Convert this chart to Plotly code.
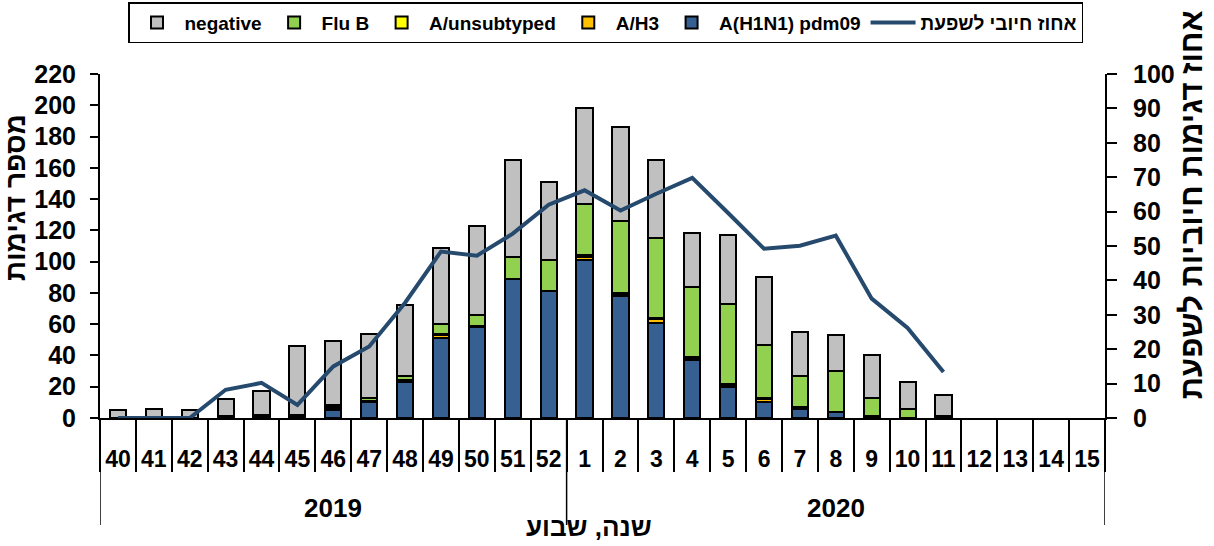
import plotly.graph_objects as go

weeks = ["40","41","42","43","44","45","46","47","48","49","50","51","52",
         "1","2","3","4","5","6","7","8","9","10","11","12","13","14","15"]
years = ["2019"]*13 + ["2020"]*15

h1n1 = [0,0,0,1,1,1,5,10,23,51,58,89,81,101,78,61,37,20,10,6,4,1,0,0,None,None,None,None]
h3 = [0,0,0,0,0,1,1,1,1,2,1,0,0,2,1,2,1,1,2,0,0,0,0,0,None,None,None,None]
unsub = [0,0,0,0,0,0,1,0,0,1,0,0,0,1,1,1,1,1,1,1,0,0,0,0,None,None,None,None]
flub = [0,0,0,0,1,0,1,2,3,6,7,14,20,33,46,51,45,51,34,20,26,12,6,1,None,None,None,None]
negative = [5,6,5,11,15,44,41,41,45,49,57,62,50,61,60,50,34,44,43,28,23,27,17,14,None,None,None,None]
pct_pos = [0,0,0,8.2,10.2,3.8,15.0,20.8,33.5,48.4,47.2,53.6,62.0,66.2,60.3,65.2,69.8,
           59.6,49.2,50.1,53.0,34.7,26.2,13.4,None,None,None,None]

FONT = "Liberation Sans, Arial, sans-serif"
n = len(weeks)

fig = go.Figure()
bar_series = [
    ("A(H1N1) pdm09", h1n1, "#376092", 5),
    ("A/H3", h3, "#FFC000", 4),
    ("A/unsubtyped", unsub, "#FFFF00", 3),
    ("Flu B", flub, "#92D050", 2),
    ("negative", negative, "#C0C0C0", 1),
]
for name, vals, col, rank in bar_series:
    fig.add_trace(go.Bar(x=weeks, y=vals, name=name, legendrank=rank,
                         marker=dict(color=col, line=dict(color="black", width=2))))
fig.add_trace(go.Scatter(x=weeks, y=pct_pos, name="אחוז חיובי לשפעת", yaxis="y2",
                         mode="lines", line=dict(color="#264A6E", width=4), legendrank=6))

fig.update_layout(
    width=1214, height=546,
    barmode="stack", bargap=0.55,
    plot_bgcolor="white", paper_bgcolor="white",
    margin=dict(l=100, r=109, t=74, b=128, autoexpand=False),
    font=dict(family=FONT, color="black", weight="bold"),
    legend=dict(orientation="h", traceorder="normal", itemwidth=45,
                x=0.503, xanchor="center", y=1.209, yanchor="top",
                bordercolor="black", borderwidth=1.5, bgcolor="white",
                font=dict(size=19, family=FONT, weight="bold")),
    xaxis=dict(type="category", categoryorder="array", categoryarray=weeks,
               range=[-0.5, n - 0.5],
               tickmode="array", tickvals=weeks, ticktext=weeks,
               showline=True, linecolor="black", linewidth=2,
               ticks="outside", tickson="boundaries", ticklen=52, tickwidth=1.5,
               tickcolor="black", ticklabelstandoff=19,
               tickfont=dict(size=23, family=FONT, weight="bold"),
               showgrid=False, zeroline=False),
    yaxis=dict(range=[0, 220], dtick=20, showline=True, linecolor="black", linewidth=2,
               ticks="outside", ticklen=8, tickwidth=1.5, tickcolor="black",
               ticklabelstandoff=9,
               tickfont=dict(size=25, family=FONT, weight="bold"),
               showgrid=False, zeroline=False),
    yaxis2=dict(range=[0, 100], dtick=10, overlaying="y", side="right",
                showline=True, linecolor="black", linewidth=2,
                ticks="outside", ticklen=10, tickwidth=1.5, tickcolor="black",
                ticklabelstandoff=11,
                tickfont=dict(size=25, family=FONT, weight="bold"),
                showgrid=False, zeroline=False),
    showlegend=True,
)

# long separators for the year groups (at category boundaries)
split = years.index("2020")
for xv in [-0.5, split - 0.5, n - 0.5]:
    fig.add_shape(type="line", xref="x", yref="paper", x0=xv, x1=xv, y0=0, y1=-0.311,
                  line=dict(color="black", width=1.5))

for yr in ["2019", "2020"]:
    idx = [i for i, y in enumerate(years) if y == yr]
    fig.add_annotation(x=(idx[0] + idx[-1]) / 2, xref="x", y=-0.262, yref="paper",
                       text=yr, showarrow=False,
                       font=dict(size=26, family=FONT, weight="bold"), yanchor="middle")
fig.add_annotation(x=0.487, xref="paper", y=-0.318, yref="paper", text="שנה, שבוע",
                   showarrow=False, font=dict(size=26, family=FONT, weight="bold"),
                   yanchor="middle")
fig.add_annotation(x=-0.0835, xref="paper", y=0.64, yref="paper", text="מספר דגימות",
                   textangle=-90, showarrow=False,
                   font=dict(size=28, family=FONT, weight="bold"),
                   xanchor="center", yanchor="middle")
fig.add_annotation(x=1.086, xref="paper", y=0.62, yref="paper", text="אחוז דגימות חיוביות לשפעת",
                   textangle=-90, showarrow=False,
                   font=dict(size=31, family=FONT, weight="bold"),
                   xanchor="center", yanchor="middle")

fig.write_html("out.html", config={"displayModeBar": False},
               post_script="document.body.style.margin='0';document.body.style.padding='0';")
